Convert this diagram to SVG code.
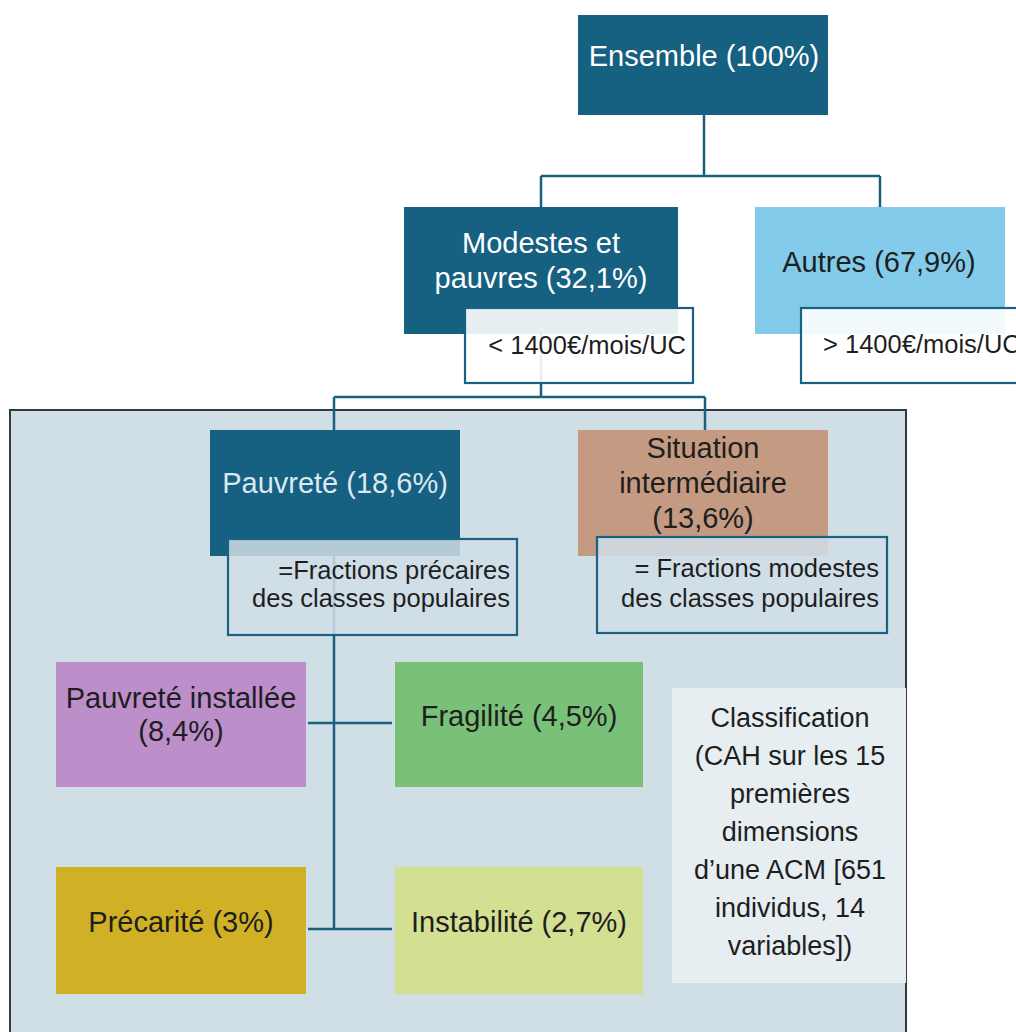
<svg xmlns="http://www.w3.org/2000/svg" width="1016" height="1032" viewBox="0 0 1016 1032">
  <style>
    text { font-family: "Liberation Sans", Arial, sans-serif; }
    .main { font-size: 29px; text-anchor: middle; }
    .light { fill: #ffffff; }
    .dark { fill: #1e1e1e; }
    .lbl { font-size: 25.5px; fill: #1e1e1e; text-anchor: end; }
    .note { font-size: 27px; fill: #1e1e1e; text-anchor: middle; }
    .conn { fill: none; stroke: #1b5f80; stroke-width: 2.5; }
    .tag-top { fill: #ffffff; fill-opacity: 0.9; stroke: #1b6184; stroke-width: 2.2; }
    .tag-low { fill: #d0dee6; fill-opacity: 0.85; stroke: #1b6184; stroke-width: 2.2; }
  </style>

  <rect width="1016" height="1032" fill="#ffffff"/>

  <!-- grouping frame for the sub-classification -->
  <g id="panel">
    <rect x="10" y="410" width="896" height="640" fill="#d0dee6" stroke="#333a3e" stroke-width="2"/>
  </g>

  <g id="connectors">
    <path class="conn" d="M704,115 V176 M541,176 H880 M541,176 V207 M880,176 V207"/>
    <path class="conn" d="M541,334 V397 M334,397 H705 M334,397 V430 M705,397 V430"/>
    <path class="conn" d="M334,556 V929 M308,723 H392 M308,929 H392"/>
  </g>

  <g id="ensemble">
    <rect x="578" y="15" width="250" height="100" fill="#166082"/>
    <text class="main light" x="704" y="66">Ensemble (100%)</text>
  </g>

  <g id="modestes">
    <rect x="404" y="207" width="274" height="127" fill="#166082"/>
    <text class="main light" x="541" y="253">Modestes et</text>
    <text class="main light" x="541" y="288">pauvres (32,1%)</text>
    <rect class="tag-top" x="465" y="308" width="228" height="75"/>
    <text class="lbl" x="686" y="354">&lt; 1400€/mois/UC</text>
  </g>

  <g id="autres">
    <rect x="755" y="207" width="250" height="127" fill="#83cbea"/>
    <text class="main dark" x="879" y="272">Autres (67,9%)</text>
    <rect class="tag-top" x="801" y="308" width="230" height="75"/>
    <text class="lbl" x="823" y="353" style="text-anchor:start">&gt; 1400€/mois/UC</text>
  </g>

  <g id="pauvrete">
    <rect x="210" y="430" width="250" height="126" fill="#166082"/>
    <text class="main" x="335" y="493" fill="#dce8ef">Pauvreté (18,6%)</text>
    <rect class="tag-low" x="228" y="539" width="289" height="96"/>
    <text class="lbl" x="510" y="579">=Fractions précaires</text>
    <text class="lbl" x="510" y="607">des classes populaires</text>
  </g>

  <g id="intermediaire">
    <rect x="578" y="430" width="250" height="126" fill="#c49a82"/>
    <text class="main dark" x="703" y="458">Situation</text>
    <text class="main dark" x="703" y="493">intermédiaire</text>
    <text class="main dark" x="703" y="528">(13,6%)</text>
    <rect class="tag-low" x="597" y="537" width="290" height="96"/>
    <text class="lbl" x="879" y="577">= Fractions modestes</text>
    <text class="lbl" x="879" y="607">des classes populaires</text>
  </g>

  <g id="installee">
    <rect x="56" y="662" width="250" height="125" fill="#bc8fcb"/>
    <text class="main dark" x="181" y="708">Pauvreté installée</text>
    <text class="main dark" x="181" y="741">(8,4%)</text>
  </g>

  <g id="fragilite">
    <rect x="395" y="662" width="248" height="125" fill="#79c178"/>
    <text class="main dark" x="519" y="726">Fragilité (4,5%)</text>
  </g>

  <g id="precarite">
    <rect x="56" y="867" width="250" height="127" fill="#d0b024"/>
    <text class="main dark" x="181" y="932">Précarité (3%)</text>
  </g>

  <g id="instabilite">
    <rect x="395" y="867" width="248" height="127" fill="#d3df91"/>
    <text class="main dark" x="519" y="932">Instabilité (2,7%)</text>
  </g>

  <g id="classification">
    <rect x="672" y="688" width="234" height="295" fill="#e6eef2"/>
    <text class="note" x="790" y="727">Classification</text>
    <text class="note" x="790" y="765">(CAH sur les 15</text>
    <text class="note" x="790" y="803">premières</text>
    <text class="note" x="790" y="841">dimensions</text>
    <text class="note" x="790" y="879">d’une ACM [651</text>
    <text class="note" x="790" y="917">individus, 14</text>
    <text class="note" x="790" y="955">variables])</text>
  </g>
</svg>
